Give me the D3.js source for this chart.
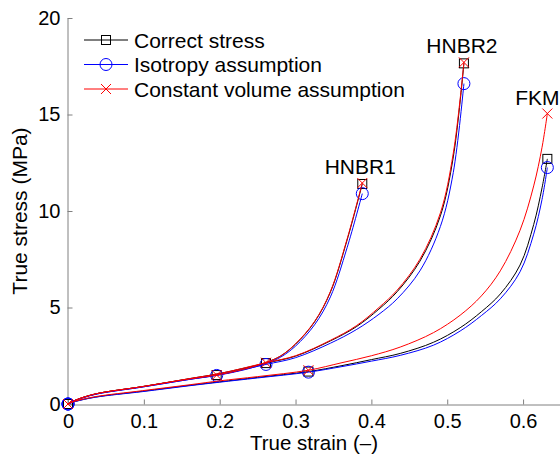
<!DOCTYPE html>
<html>
<head>
<meta charset="utf-8">
<script src="https://cdn.jsdelivr.net/npm/d3@7"></script>
<style>
  body { margin: 0; background: #fff; }
  text { font-family: "Liberation Sans", Arial, sans-serif; fill: #000; }
</style>
</head>
<body>
<div id="chart"></div>
<script>
let width = 560,
    height = 454;

// strain points of each material, marker shown at first, middle and last point
const strainHNBR1 = [0, 0.01, 0.036, 0.098, 0.161, 0.196, 0.23, 0.263, 0.28, 0.30, 0.325, 0.346, 0.368, 0.388];
const correctHNBR1 = [0, 0.2, 0.52, 0.9, 1.3, 1.5, 1.78, 2.18, 2.48, 3.1, 4.25, 5.8, 8.5, 11.4];
const isoHNBR1 = [0, 0.19, 0.5, 0.88, 1.28, 1.48, 1.75, 2.13, 2.42, 3.0, 4.1, 5.55, 8.1, 10.9];
const volHNBR1 = [0, 0.2, 0.52, 0.9, 1.3, 1.5, 1.78, 2.18, 2.48, 3.12, 4.27, 5.83, 8.55, 11.45];
const midHNBR1 = 5;

const strainHNBR2 = [0, 0.01, 0.036, 0.098, 0.161, 0.2, 0.261, 0.3, 0.346, 0.38, 0.41, 0.434, 0.464, 0.491, 0.508, 0.522];
const correctHNBR2 = [0, 0.2, 0.52, 0.9, 1.32, 1.58, 2.12, 2.48, 3.27, 4.0, 4.92, 5.82, 7.4, 9.75, 12.8, 17.65];
const isoHNBR2 = [0, 0.19, 0.5, 0.88, 1.28, 1.52, 2.05, 2.4, 3.15, 3.85, 4.65, 5.45, 6.9, 9.2, 12.0, 16.6];
const volHNBR2 = [0, 0.2, 0.52, 0.9, 1.32, 1.58, 2.14, 2.5, 3.3, 4.05, 5.0, 5.9, 7.5, 9.9, 13.0, 17.7];
const midHNBR2 = 6;

const strainFKM = [0, 0.01, 0.036, 0.098, 0.161, 0.2, 0.25, 0.317, 0.36, 0.4, 0.438, 0.482, 0.517, 0.545, 0.57, 0.596, 0.614, 0.625, 0.632];
const correctFKM = [0, 0.14, 0.36, 0.66, 0.97, 1.15, 1.38, 1.68, 1.98, 2.3, 2.62, 3.2, 3.95, 4.78, 5.7, 7.2, 9.3, 11.2, 12.7];
const isoFKM = [0, 0.13, 0.35, 0.64, 0.95, 1.13, 1.35, 1.65, 1.93, 2.22, 2.52, 3.05, 3.78, 4.58, 5.45, 6.85, 8.8, 10.6, 12.25];
const volFKM = [0, 0.15, 0.38, 0.69, 1.0, 1.2, 1.42, 1.75, 2.13, 2.5, 2.95, 3.7, 4.6, 5.6, 6.9, 9.0, 11.3, 13.3, 15.05];
const midFKM = 7;

const materials = ["HNBR1", "HNBR2", "FKM"];
const seriesNames = ["Correct stress", "Isotropy assumption", "Constant volume assumption"];
const xTicks = [0, 0.1, 0.2, 0.3, 0.4, 0.5, 0.6];
const yTicks = [0, 5, 10, 15, 20];

const curves = [
  { name: materials[0], strain: strainHNBR1, stress: [correctHNBR1, isoHNBR1, volHNBR1], mid: midHNBR1 },
  { name: materials[1], strain: strainHNBR2, stress: [correctHNBR2, isoHNBR2, volHNBR2], mid: midHNBR2 },
  { name: materials[2], strain: strainFKM, stress: [correctFKM, isoFKM, volFKM], mid: midFKM }
];

const colors = ["#000000", "#0000ff", "#ff0000"];
const axisColor = "#808080";

const x = d3.scaleLinear().domain([0, 0.65]).range([68, 561]);
const y = d3.scaleLinear().domain([0, 20]).range([404, 18]);

const svg = d3.select("#chart")
      .append("svg")
      .attr("width", width)
      .attr("height", height);

// axes
let xAxis = svg.append("g")
    .attr("transform", "translate(0,404.5)")
    .call(d3.axisBottom(x).tickValues(xTicks).tickSizeInner(-5).tickSizeOuter(0).tickPadding(9)
      .tickFormat(function (d) { return d === 0 ? "0" : d3.format(".1f")(d); }));

let yAxis = svg.append("g")
    .attr("transform", "translate(67.5,0)")
    .call(d3.axisLeft(y).tickValues(yTicks).tickSizeInner(-5).tickSizeOuter(0).tickPadding(7));

[xAxis, yAxis].forEach(function (a) {
  a.select(".domain").attr("stroke", axisColor);
  a.selectAll(".tick line").attr("stroke", axisColor);
  a.selectAll(".tick text").style("font-size", "20px").attr("fill", "#000");
});

svg.append("text")
  .attr("x", 314)
  .attr("y", 450)
  .attr("text-anchor", "middle")
  .style("font-size", "20.5px")
  .text("True strain (\u2013)");

svg.append("text")
  .attr("transform", "translate(27,211) rotate(-90)")
  .attr("text-anchor", "middle")
  .style("font-size", "21px")
  .text("True stress (MPa)");

const line = d3.line()
  .x(function (d) { return x(d[0]); })
  .y(function (d) { return y(d[1]); })
  .curve(d3.curveCatmullRom.alpha(0.5));

function drawMarker(g, k, px, py) {
  if (k === 0) {
    g.append("rect").attr("x", px - 4.5).attr("y", py - 4.5).attr("width", 9).attr("height", 9)
      .attr("fill", "none").attr("stroke", colors[0]).attr("stroke-width", 1);
  } else if (k === 1) {
    g.append("circle").attr("cx", px).attr("cy", py).attr("r", 6)
      .attr("fill", "none").attr("stroke", colors[1]).attr("stroke-width", 1);
  } else {
    g.append("path")
      .attr("d", "M" + (px - 5) + "," + (py - 5) + "L" + (px + 5) + "," + (py + 5) +
                 "M" + (px - 5) + "," + (py + 5) + "L" + (px + 5) + "," + (py - 5))
      .attr("stroke", colors[2]).attr("stroke-width", 1);
  }
}

const plot = svg.append("g");

// black, then blue, then red on top
[0, 1, 2].forEach(function (k) {
  curves.forEach(function (c) {
    let pts = c.strain.map(function (s, i) { return [s, c.stress[k][i]]; });
    plot.append("path")
      .datum(pts)
      .attr("fill", "none")
      .attr("stroke", colors[k])
      .attr("stroke-width", 1)
      .attr("d", line);
    [0, c.mid, pts.length - 1].forEach(function (i) {
      drawMarker(plot, k, x(pts[i][0]), y(pts[i][1]));
    });
  });
});

// material names above the curve ends
curves.forEach(function (c) {
  let n = c.strain.length - 1;
  let top = d3.max(c.stress, function (s) { return s[n]; });
  svg.append("text")
    .attr("x", x(c.strain[n]) - (c.name === "FKM" ? 10 : 2))
    .attr("y", y(top) - 9)
    .attr("text-anchor", "middle")
    .style("font-size", "21px")
    .text(c.name);
});

// legend
const legend = svg.append("g");
seriesNames.forEach(function (name, k) {
  let ly = 40 + k * 24.5;
  legend.append("line")
    .attr("x1", 84).attr("x2", 128).attr("y1", ly).attr("y2", ly)
    .attr("stroke", colors[k]).attr("stroke-width", 1);
  drawMarker(legend, k, 106, ly);
  legend.append("text")
    .attr("x", 134).attr("y", ly).attr("dy", "0.36em")
    .style("font-size", "21px")
    .text(name);
});
</script>
</body>
</html>
